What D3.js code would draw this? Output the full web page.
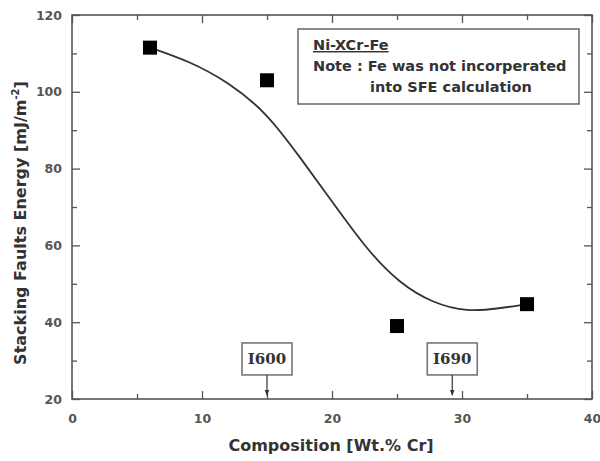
<!DOCTYPE html>
<html>
<head>
<meta charset="utf-8">
<script src="https://cdn.jsdelivr.net/npm/d3@7"></script>
<style>
  body { margin: 0; background: #fff; }
  text { font-family: "DejaVu Sans", Verdana, sans-serif; }
</style>
</head>
<body>
<div id="chart"></div>
<script>

// measured points
var crContent = [6, 15, 25, 35];
var sfeValues = [111.5, 103, 39, 44.7];

// fitted curve
var fitX = [6, 9, 12, 15, 17.5, 20.1, 22.7, 25.2, 27.8, 30.4, 32.9, 35];
var fitY = [111.5, 108, 102.6, 94.5, 83.1, 71.0, 58.8, 50.1, 44.9, 42.7, 43.6, 44.7];

var xTicks = [0, 10, 20, 30, 40];
var yTicks = [20, 40, 60, 80, 100, 120];

// alloy markers
var alloyNames = ["I600", "I690"];
var alloyCr = [15, 29.25];

var width = 600, height = 461;
var margin = {top: 15, right: 8, bottom: 62, left: 72};
var plotW = 592 - margin.left, plotH = 399 - margin.top;
var axisColor = '#555';

var svg = d3.select("#chart").append("svg")
  .attr("width", width)
  .attr("height", height);

var defs = svg.append("defs");
defs.append("marker")
  .attr("id", "arrow")
  .attr("viewBox", "0 0 10 10")
  .attr("refX", 9).attr("refY", 5)
  .attr("markerWidth", 5).attr("markerHeight", 5)
  .attr("orient", "auto")
  .append("path")
  .attr("d", "M0,1 L10,5 L0,9 z")
  .attr("fill", "#333");

var g = svg.append("g")
  .attr("transform", "translate(" + margin.left + "," + margin.top + ")");

var xScale = d3.scaleLinear().domain([0, 40]).range([0, plotW]);
var yScale = d3.scaleLinear().domain([20, 120]).range([plotH, 0]);

var minorX = d3.range(5, 40, 10), minorY = d3.range(30, 120, 20);

function styleAxis(sel) {
  sel.select(".domain").remove();
  sel.selectAll("line").attr("stroke", axisColor).attr("stroke-width", 1.3);
  sel.selectAll("text")
    .attr("fill", "#555")
    .style("font-size", "12.5px")
    .style("font-weight", "bold");
}

// major ticks (inward) with labels
g.append("g")
  .attr("transform", "translate(0," + plotH + ")")
  .call(d3.axisBottom(xScale).tickValues(xTicks).tickSize(-8).tickPadding(15))
  .call(styleAxis);
g.append("g")
  .call(d3.axisLeft(yScale).tickValues(yTicks).tickSize(-8).tickPadding(10))
  .call(styleAxis);
g.append("g")
  .call(d3.axisTop(xScale).tickValues(xTicks).tickSize(-8).tickFormat(""))
  .call(styleAxis);
g.append("g")
  .attr("transform", "translate(" + plotW + ",0)")
  .call(d3.axisRight(yScale).tickValues(yTicks).tickSize(-8).tickFormat(""))
  .call(styleAxis);

// minor ticks
g.append("g")
  .attr("transform", "translate(0," + plotH + ")")
  .call(d3.axisBottom(xScale).tickValues(minorX).tickSize(-5).tickFormat(""))
  .call(styleAxis);
g.append("g")
  .call(d3.axisTop(xScale).tickValues(minorX).tickSize(-5).tickFormat(""))
  .call(styleAxis);
g.append("g")
  .call(d3.axisLeft(yScale).tickValues(minorY).tickSize(-5).tickFormat(""))
  .call(styleAxis);
g.append("g")
  .attr("transform", "translate(" + plotW + ",0)")
  .call(d3.axisRight(yScale).tickValues(minorY).tickSize(-5).tickFormat(""))
  .call(styleAxis);

// frame
g.append("rect")
  .attr("width", plotW).attr("height", plotH)
  .attr("fill", "none")
  .attr("stroke", axisColor)
  .attr("stroke-width", 1.6);

// fitted curve
var fitData = fitX.map(function(x, i) { return [x, fitY[i]]; });
var line = d3.line()
  .x(function(d) { return xScale(d[0]); })
  .y(function(d) { return yScale(d[1]); })
  .curve(d3.curveBasis);

g.append("path")
  .datum(fitData)
  .attr("d", line)
  .attr("fill", "none")
  .attr("stroke", "#333")
  .attr("stroke-width", 1.8);

// data squares
var sq = 14;
g.selectAll(".pt")
  .data(crContent)
  .enter().append("rect")
  .attr("class", "pt")
  .attr("x", function(d) { return xScale(d) - sq / 2; })
  .attr("y", function(d, i) { return yScale(sfeValues[i]) - sq / 2; })
  .attr("width", sq).attr("height", sq)
  .attr("fill", "#000");

// alloy labels with arrows
alloyNames.forEach(function(name, i) {
  var cx = xScale(alloyCr[i]);
  var boxTop = yScale(34.6), boxH = 32, boxW = 50;
  g.append("rect")
    .attr("x", cx - boxW / 2).attr("y", boxTop)
    .attr("width", boxW).attr("height", boxH)
    .attr("fill", "#fff")
    .attr("stroke", "#777")
    .attr("stroke-width", 1.6);
  g.append("text")
    .attr("x", cx).attr("y", boxTop + 21)
    .attr("text-anchor", "middle")
    .style("font-family", "'DejaVu Serif', serif")
    .style("font-weight", "bold")
    .style("font-size", "15px")
    .attr("fill", "#333")
    .text(name);
  g.append("line")
    .attr("x1", cx).attr("x2", cx)
    .attr("y1", boxTop + boxH).attr("y2", yScale(21))
    .attr("stroke", "#333")
    .attr("stroke-width", 1.2)
    .attr("marker-end", "url(#arrow)");
});

// note box
var note = svg.append("g");
note.append("rect")
  .attr("x", 298).attr("y", 29)
  .attr("width", 281).attr("height", 75)
  .attr("fill", "#fff")
  .attr("stroke", "#666")
  .attr("stroke-width", 1.5);
note.append("text")
  .attr("x", 313).attr("y", 50)
  .style("font-size", "14.5px").style("font-weight", "bold")
  .style("text-decoration", "underline")
  .attr("fill", "#333")
  .text("Ni-XCr-Fe");
note.append("text")
  .attr("x", 313).attr("y", 71)
  .style("font-size", "14.5px").style("font-weight", "bold")
  .attr("fill", "#333")
  .text("Note : Fe was not incorperated");
note.append("text")
  .attr("x", 370).attr("y", 92)
  .style("font-size", "14.5px").style("font-weight", "bold")
  .attr("fill", "#333")
  .text("into SFE calculation");

// axis titles
svg.append("text")
  .attr("x", 331).attr("y", 451)
  .attr("text-anchor", "middle")
  .style("font-size", "16px").style("font-weight", "bold")
  .attr("fill", "#333")
  .text("Composition [Wt.% Cr]");

var yl = svg.append("text")
  .attr("transform", "translate(26,223) rotate(-90)")
  .attr("text-anchor", "middle")
  .style("font-size", "16px").style("font-weight", "bold")
  .attr("fill", "#333");
yl.append("tspan").text("Stacking Faults Energy [mJ/m");
yl.append("tspan").attr("dy", -7).style("font-size", "10px").text("-2");
yl.append("tspan").attr("dy", 7).text("]");

</script>
</body>
</html>
